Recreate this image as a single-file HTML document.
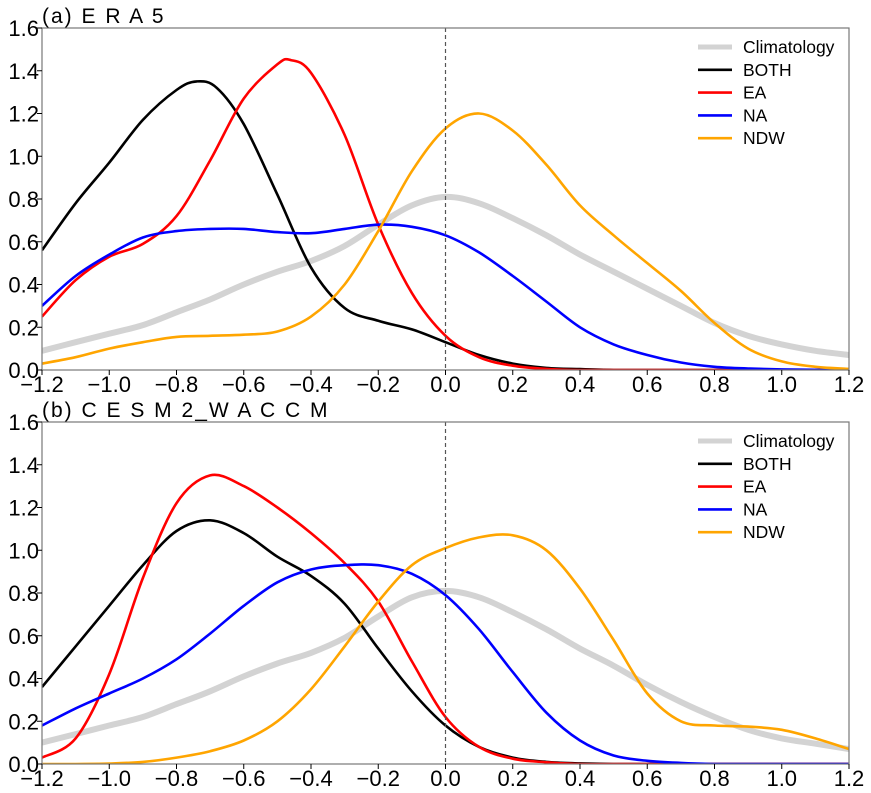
<!DOCTYPE html>
<html><head><meta charset="utf-8"><style>
html,body{margin:0;padding:0;background:#fff;}
svg{display:block;font-family:"Liberation Sans","DejaVu Sans",sans-serif;}
</style></head><body>
<svg id="chart" width="871" height="793" viewBox="0 0 871 793"></svg>
<script>
const xTicks=[-1.2,-1.0,-0.8,-0.6,-0.4,-0.2,0.0,0.2,0.4,0.6,0.8,1.0,1.2];
const xTickLabels=["−1.2","−1.0","−0.8","−0.6","−0.4","−0.2","0.0","0.2","0.4","0.6","0.8","1.0","1.2"];
const yTicks=[0,0.2,0.4,0.6,0.8,1.0,1.2,1.4,1.6];
const yTickLabels=["0.0","0.2","0.4","0.6","0.8","1.0","1.2","1.4","1.6"];
const seriesNames=["Climatology","BOTH","EA","NA","NDW"];
const gridX=[-1.2,-1.1,-1.0,-0.9,-0.8,-0.7,-0.6,-0.5,-0.4,-0.3,-0.2,-0.1,0,0.1,0.2,0.3,0.4,0.5,0.6,0.7,0.8,0.9,1.0,1.1,1.2];
const aClim=[0.09,0.13,0.17,0.21,0.27,0.33,0.40,0.46,0.51,0.58,0.68,0.77,0.81,0.78,0.71,0.63,0.54,0.46,0.38,0.30,0.22,0.16,0.12,0.09,0.07];
const aBothX=[-1.2,-1.1,-1.0,-0.9,-0.8,-0.74,-0.68,-0.6,-0.5,-0.4,-0.3,-0.2,-0.1,0,0.1,0.2,0.3,0.4,0.5,0.6,0.8,1.0,1.2];
const aBoth=[0.56,0.78,0.97,1.17,1.31,1.35,1.32,1.15,0.82,0.48,0.29,0.23,0.19,0.13,0.07,0.03,0.01,0.004,0,0,0,0,0];
const aEaX=[-1.2,-1.1,-1.0,-0.9,-0.8,-0.7,-0.6,-0.5,-0.46,-0.4,-0.3,-0.2,-0.1,0,0.1,0.2,0.3,0.4,0.6,0.8,1.0,1.2];
const aEa=[0.25,0.42,0.53,0.59,0.72,0.98,1.27,1.43,1.45,1.39,1.10,0.68,0.36,0.16,0.06,0.02,0.005,0,0,0,0,0];
const aNa=[0.30,0.44,0.54,0.62,0.65,0.66,0.66,0.645,0.64,0.66,0.68,0.67,0.63,0.55,0.44,0.32,0.20,0.12,0.07,0.035,0.015,0.007,0.003,0.001,0];
const aNdw=[0.03,0.06,0.10,0.13,0.155,0.16,0.165,0.18,0.25,0.40,0.65,0.93,1.13,1.20,1.12,0.96,0.77,0.63,0.50,0.37,0.22,0.10,0.04,0.015,0.005];
const bClim=[0.10,0.14,0.18,0.22,0.28,0.34,0.41,0.47,0.52,0.59,0.69,0.78,0.81,0.78,0.71,0.63,0.54,0.46,0.37,0.29,0.22,0.16,0.12,0.095,0.07];
const bBoth=[0.36,0.55,0.74,0.93,1.09,1.14,1.08,0.97,0.88,0.75,0.54,0.34,0.18,0.08,0.03,0.01,0.003,0,0,0,0,0,0,0,0];
const bEaX=[-1.2,-1.1,-1.0,-0.9,-0.8,-0.7,-0.6,-0.5,-0.4,-0.3,-0.2,-0.1,0,0.1,0.2,0.3,0.4,0.6,0.8,1.0,1.2];
const bEa=[0.03,0.12,0.42,0.87,1.22,1.35,1.30,1.20,1.08,0.94,0.76,0.48,0.22,0.08,0.025,0.008,0,0,0,0,0];
const bNa=[0.18,0.26,0.33,0.40,0.49,0.61,0.74,0.85,0.91,0.93,0.93,0.89,0.79,0.63,0.43,0.24,0.11,0.04,0.015,0.005,0,0,0,0,0];
const bNdw=[0,0,0.002,0.01,0.03,0.06,0.11,0.20,0.35,0.55,0.76,0.93,1.01,1.06,1.07,1.00,0.82,0.58,0.33,0.20,0.18,0.175,0.16,0.12,0.07];

const NS="http://www.w3.org/2000/svg";
const svg=document.getElementById('chart');
function mk(tag,attrs,parent){const e=document.createElementNS(NS,tag);for(const k in attrs)e.setAttribute(k,attrs[k]);(parent||svg).appendChild(e);return e;}
const X0=42,X1=849;
function sx(v){return X0+(v+1.2)/2.4*(X1-X0);}
function pathFor(xs,ys,sy){
  const p=xs.map((x,i)=>[sx(x),sy(ys[i])]);
  let d="M"+p[0][0].toFixed(1)+","+p[0][1].toFixed(1);
  for(let i=0;i<p.length-1;i++){
    const p0=p[i-1]||p[i],p1=p[i],p2=p[i+1],p3=p[i+2]||p2;
    const c1=[p1[0]+(p2[0]-p0[0])/6,p1[1]+(p2[1]-p0[1])/6];
    const c2=[p2[0]-(p3[0]-p1[0])/6,p2[1]-(p3[1]-p1[1])/6];
    d+="C"+c1[0].toFixed(1)+","+c1[1].toFixed(1)+" "+c2[0].toFixed(1)+","+c2[1].toFixed(1)+" "+p2[0].toFixed(1)+","+p2[1].toFixed(1);
  }
  return d;
}
const colors=["#d3d3d3","#000000","#ff0000","#0000ff","#ffa500"];
const widths=[6,2.6,2.6,2.6,2.6];
function panel(id,title,top,bottom,data){
  const g=mk('g',{});
  
  
  const sy=v=>bottom-v/1.6*(bottom-top);
  const clip=mk('clipPath',{id:'clip'+id},g);mk('rect',{x:X0,y:top,width:X1-X0,height:bottom-top},clip);
  const series=mk('g',{'clip-path':'url(#clip'+id+')'},g);
  data.forEach((s,i)=>{
    const el=mk('path',{d:pathFor(s[0],s[1],sy),fill:'none',stroke:colors[i],'stroke-width':widths[i],'stroke-linejoin':'round'},series);
    
    
  });
  const zl=mk('line',{x1:sx(0),x2:sx(0),y1:top,y2:bottom,stroke:'#555','stroke-width':1.2,'stroke-dasharray':'4,3'},g);
  
  
  const fr=mk('rect',{x:X0,y:top,width:X1-X0,height:bottom-top,fill:'none',stroke:'#777','stroke-width':1.2},g);
  
  
  yTicks.forEach((v,i)=>{
    mk('line',{x1:X0-5,x2:X0,y1:sy(v),y2:sy(v),stroke:'#000','stroke-width':1},g);
    const t=mk('text',{x:X0-3,y:sy(v)+8,'text-anchor':'end','font-size':22},g);
    t.textContent=yTickLabels[i];
    
    
  });
  xTicks.forEach((v,i)=>{
    mk('line',{x1:sx(v),x2:sx(v),y1:bottom,y2:bottom+5,stroke:'#000','stroke-width':1},g);
    const t=mk('text',{x:sx(v),y:bottom+22,'text-anchor':'middle','font-size':22},g);
    t.textContent=xTickLabels[i];
    
    
  });
  const tt=mk('text',{x:X0,y:top-5,'font-size':21,'letter-spacing':2},g);
  tt.textContent=title;
  
  
  seriesNames.forEach((n,i)=>{
    const ly=top+19+i*22.8;
    const l=mk('line',{x1:698,x2:732,y1:ly,y2:ly,stroke:colors[i],'stroke-width':i==0?5:2.6},g);
    
    
    const t=mk('text',{x:743,y:ly+6,'font-size':17.5},g);
    t.textContent=n;
    
    
  });
}
panel('a','(a) E R A 5',28,370,[[gridX,aClim],[aBothX,aBoth],[aEaX,aEa],[gridX,aNa],[gridX,aNdw]]);
panel('b','(b) C E S M 2_W A C C M',422,764,[[gridX,bClim],[gridX,bBoth],[bEaX,bEa],[gridX,bNa],[gridX,bNdw]]);
</script>
</body></html>
